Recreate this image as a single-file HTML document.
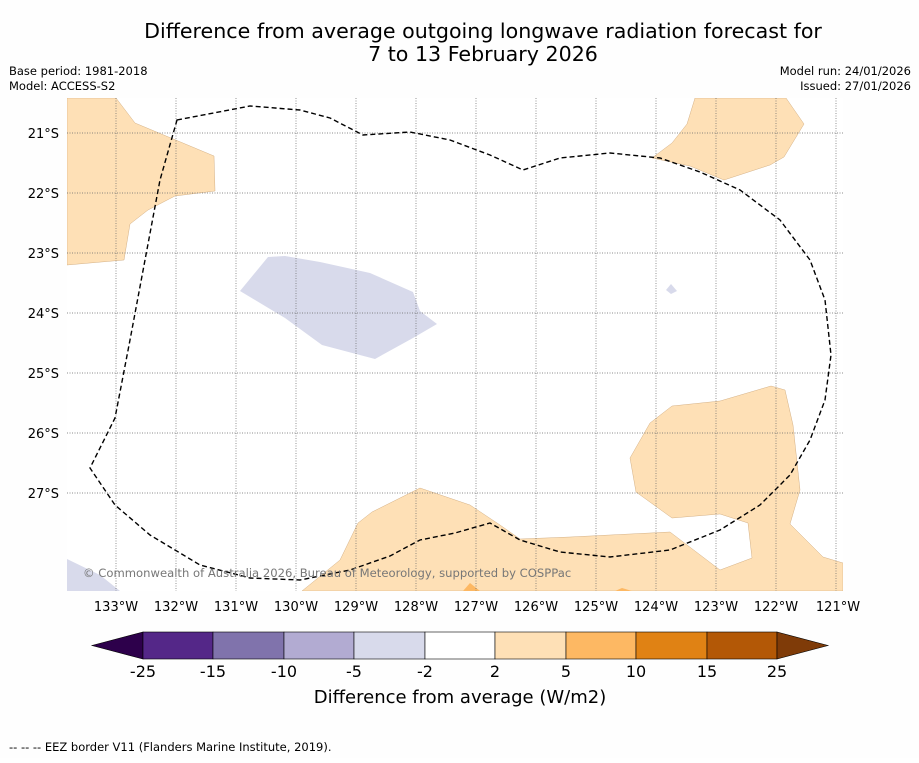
<!DOCTYPE html>
<html><head><meta charset="utf-8"><style>
body{margin:0;background:#fff;font-family:"Liberation Sans","DejaVu Sans",sans-serif}
svg text{font-family:"DejaVu Sans","Liberation Sans",sans-serif}
</style></head><body>
<svg width="919" height="758" viewBox="0 0 919 758">
<rect width="919" height="758" fill="#fefefe"/>
<text x="483" y="38" font-size="20.6" text-anchor="middle">Difference from average outgoing longwave radiation forecast for</text>
<text x="483" y="61" font-size="20.6" text-anchor="middle">7 to 13 February 2026</text>
<text x="9" y="75" font-size="11.5">Base period: 1981-2018</text>
<text x="9" y="90" font-size="11.5">Model: ACCESS-S2</text>
<text x="911" y="75" font-size="11.5" text-anchor="end">Model run: 24/01/2026</text>
<text x="911" y="90" font-size="11.5" text-anchor="end">Issued: 27/01/2026</text>
<defs><clipPath id="mc"><rect x="67" y="98" width="776" height="493"/></clipPath></defs>
<g clip-path="url(#mc)">
<rect x="67" y="98" width="776" height="493" fill="#fff"/>
<g fill="#fee0b6" stroke="#c8a070" stroke-width="0.4">
<polygon points="67,98 116,98 135,123 214,156 215,191 175,196 148,210 130,224 124,260 67,265"/>
<polygon points="695,98 786,98 804,124 784,157 770,165 724,180 690,166 652,158 672,143 687,124"/>
<polygon points="630,458 650,423 672,406 720,401 771,386 785,390 793,425 800,490 790,524 823,557 843,563 843,591 302,591 340,560 358,523 372,512 420,488 470,505 500,525 520,539 570,537 670,532 720,570 752,558 748,523 720,514 672,518 636,492"/>
</g>
<polygon fill="#fdb863" points="463,591 470,583 480,591"/>
<polygon fill="#fdb863" points="615,591 622,588 632,591"/>
<g fill="#d8daeb">
<polygon points="240,291 268,257 285,256 320,262 370,273 413,292 420,311 437,324 413,338 375,359 322,345 285,318"/>
<polygon points="666,290 671,284 677,291 671,294"/>
<polygon points="67,559 100,575 120,591 67,591"/>
</g>
<g stroke="#666" stroke-width="0.7" stroke-dasharray="1,1.5">
<line x1="67" x2="843" y1="133" y2="133"/><line x1="67" x2="843" y1="193" y2="193"/><line x1="67" x2="843" y1="253" y2="253"/><line x1="67" x2="843" y1="313" y2="313"/><line x1="67" x2="843" y1="373" y2="373"/><line x1="67" x2="843" y1="433" y2="433"/><line x1="67" x2="843" y1="493" y2="493"/>
<line x1="116" x2="116" y1="98" y2="591"/><line x1="176" x2="176" y1="98" y2="591"/><line x1="236" x2="236" y1="98" y2="591"/><line x1="296" x2="296" y1="98" y2="591"/><line x1="356" x2="356" y1="98" y2="591"/><line x1="416" x2="416" y1="98" y2="591"/><line x1="476" x2="476" y1="98" y2="591"/><line x1="536" x2="536" y1="98" y2="591"/><line x1="596" x2="596" y1="98" y2="591"/><line x1="656" x2="656" y1="98" y2="591"/><line x1="716" x2="716" y1="98" y2="591"/><line x1="776" x2="776" y1="98" y2="591"/><line x1="836" x2="836" y1="98" y2="591"/>
</g>
<path fill="none" stroke="#000" stroke-width="1.4" stroke-dasharray="5,3" d="M177,120 L250,106 L300,110 L330,118 L363,135 L410,132 L450,140 L490,155 L523,170 L560,158 L610,153 L660,158 L700,172 L740,190 L780,220 L810,260 L825,300 L831,355 L825,400 L810,440 L790,475 L760,505 L720,530 L670,550 L610,557 L560,552 L520,540 L490,523 L455,533 L420,540 L390,556 L350,570 L300,580 L250,578 L200,565 L150,535 L115,505 L90,468 L115,418 L130,340 L145,260 L160,180 Z"/>
<text x="83" y="577" font-size="11.6" fill="#777">© Commonwealth of Australia 2026, Bureau of Meteorology, supported by COSPPac</text>
</g>
<g font-size="13" text-anchor="end">
<text x="59" y="138">21°S</text><text x="59" y="198">22°S</text><text x="59" y="258">23°S</text><text x="59" y="318">24°S</text><text x="59" y="378">25°S</text><text x="59" y="438">26°S</text><text x="59" y="498">27°S</text>
</g>
<g font-size="13" text-anchor="middle">
<text x="116" y="611">133°W</text><text x="176" y="611">132°W</text><text x="236" y="611">131°W</text><text x="296" y="611">130°W</text><text x="356" y="611">129°W</text><text x="416" y="611">128°W</text><text x="476" y="611">127°W</text><text x="536" y="611">126°W</text><text x="596" y="611">125°W</text><text x="656" y="611">124°W</text><text x="716" y="611">123°W</text><text x="776" y="611">122°W</text><text x="838" y="611">121°W</text>
</g>
<g stroke="#000" stroke-width="0.6">
<polygon points="143,632 143,659 92,645.5" fill="#2d004b"/>
<rect x="143" y="632" width="70" height="27" fill="#542788"/>
<rect x="213" y="632" width="71" height="27" fill="#8073ac"/>
<rect x="284" y="632" width="70" height="27" fill="#b2abd2"/>
<rect x="354" y="632" width="71" height="27" fill="#d8daeb"/>
<rect x="425" y="632" width="70" height="27" fill="#ffffff"/>
<rect x="495" y="632" width="71" height="27" fill="#fee0b6"/>
<rect x="566" y="632" width="70" height="27" fill="#fdb863"/>
<rect x="636" y="632" width="71" height="27" fill="#e08214"/>
<rect x="707" y="632" width="70" height="27" fill="#b35806"/>
<polygon points="777,632 777,659 828,645.5" fill="#7f3b08"/>
</g>
<g font-size="16" text-anchor="middle">
<text x="143" y="677">-25</text><text x="213" y="677">-15</text><text x="284" y="677">-10</text><text x="354" y="677">-5</text><text x="425" y="677">-2</text><text x="495" y="677">2</text><text x="566" y="677">5</text><text x="636" y="677">10</text><text x="707" y="677">15</text><text x="777" y="677">25</text>
</g>
<text x="460" y="703" font-size="18" text-anchor="middle">Difference from average (W/m2)</text>
<text x="9" y="751" font-size="11.5">--  --  -- EEZ border V11 (Flanders Marine Institute, 2019).</text>
</svg>
</body></html>
